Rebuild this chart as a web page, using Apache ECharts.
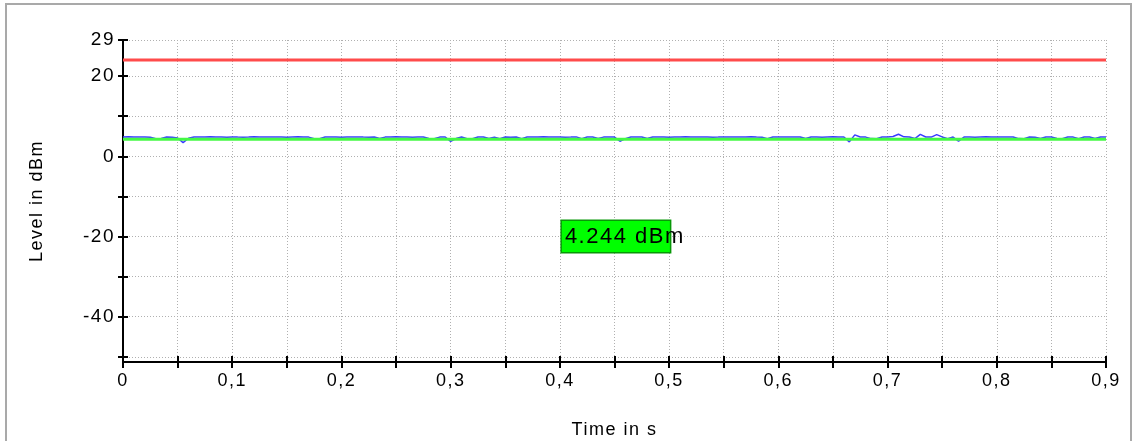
<!DOCTYPE html>
<html>
<head>
<meta charset="utf-8">
<title>Level in dBm</title>
<script src="https://cdn.jsdelivr.net/npm/echarts@6/dist/echarts.min.js"></script>
<style>
  html, body { margin: 0; padding: 0; background: #fff; }
  #chart { width: 1137px; height: 441px; }
</style>
</head>
<body>
<div id="chart"></div>
<script>
// Wide tracking for all chart text (the instrument font is spaced out)
(function () {
  const proto = HTMLCanvasElement.prototype;
  const orig = proto.getContext;
  proto.getContext = function (type, attrs) {
    const ctx = orig.call(this, type, attrs);
    if (type === '2d' && ctx && 'letterSpacing' in ctx) ctx.letterSpacing = '1.5px';
    return ctx;
  };
})();

// ---- data ----
const timeStep = 0.005;            // s between trace samples
const traceLevels = [              // measured level, dBm
  4.82, 4.85, 4.78, 4.80, 4.83, 4.76, 4.40, 4.45, 4.81, 4.77,
  4.55, 3.40, 4.50, 4.79, 4.83, 4.80, 4.85, 4.78, 4.82, 4.76,
  4.84, 4.80, 4.77, 4.81, 4.86, 4.79, 4.82, 4.78, 4.80, 4.83,
  4.77, 4.81, 4.85, 4.80, 4.78, 4.38, 4.40, 4.79, 4.82, 4.80,
  4.76, 4.83, 4.79, 4.84, 4.80, 4.77, 4.81, 4.42, 4.78, 4.82,
  4.85, 4.79, 4.81, 4.77, 4.83, 4.80, 4.45, 4.38, 4.78, 4.81,
  3.70, 4.42, 4.80, 4.40, 4.36, 4.79, 4.82, 4.43, 4.78, 4.38,
  4.81, 4.77, 4.83, 4.41, 4.80, 4.82, 4.78, 4.85, 4.81, 4.79,
  4.83, 4.77, 4.80, 4.84, 4.40, 4.79, 4.81, 4.43, 4.78, 4.82,
  4.80, 3.75, 4.41, 4.79, 4.83, 4.80, 4.42, 4.81, 4.78, 4.84,
  4.77, 4.82, 4.79, 4.85, 4.80, 4.78, 4.83, 4.81, 4.77, 4.80,
  4.84, 4.79, 4.82, 4.78, 4.81, 4.85, 4.80, 4.77, 4.40, 4.82,
  4.79, 4.83, 4.80, 4.78, 4.82, 4.43, 4.80, 4.84, 4.77, 4.81,
  4.85, 4.79, 4.80, 3.60, 5.35, 4.82, 4.78, 4.41, 4.39, 4.80,
  4.83, 4.95, 5.50, 4.85, 4.80, 4.42, 5.45, 4.82, 4.78, 5.40,
  4.83, 4.41, 4.80, 3.75, 4.79, 4.82, 4.77, 4.81, 4.85, 4.80,
  4.78, 4.82, 4.79, 4.83, 4.41, 4.39, 4.80, 4.77, 4.43, 4.81,
  4.79, 4.42, 4.40, 4.82, 4.78, 4.38, 4.81, 4.79, 4.42, 4.83,
  4.80
];
const limitLevel = 24;             // dBm, upper limit line
const averageLevel = 4.244;        // dBm, mean level line
const readoutPos = [0.4, -20];     // s, dBm: anchor of the readout box

const timeRange = [0, 0.9];
const levelRange = [-51.3, 29];
const timeTicks = [0, 0.05, 0.1, 0.15, 0.2, 0.25, 0.3, 0.35, 0.4, 0.45, 0.5, 0.55, 0.6, 0.65, 0.7, 0.75, 0.8, 0.85, 0.9];
const timeLabels = [0, 0.1, 0.2, 0.3, 0.4, 0.5, 0.6, 0.7, 0.8, 0.9];
const levelTicks = [-50, -40, -30, -20, -10, 0, 10, 20, 29];
const levelLabels = [-40, -20, 0, 20, 29];

// ---- build ----
const tracePoints = traceLevels.map((v, i) => [+(i * timeStep).toFixed(3), v]);
const FONT = '"Liberation Sans", Arial, Helvetica, sans-serif';
const fmtTime = v => (Math.abs(v) < 1e-9 ? '0' : (+v).toFixed(1).replace('.', ','));

const gridLine = { show: true, lineStyle: { color: '#b0b0b0', width: 1, type: [1, 2] } };

const chart = echarts.init(document.getElementById('chart'), null, { renderer: 'canvas' });
chart.setOption({
  animation: false,
  backgroundColor: '#ffffff',
  textStyle: { fontFamily: FONT, color: '#000' },
  graphic: [{
    type: 'rect', z: -10, silent: true,
    shape: { x: 6, y: 4, width: 1125, height: 470 },
    style: { fill: null, stroke: '#a9a9a9', lineWidth: 2 }
  }],
  grid: { left: 123, right: 31, top: 40, bottom: 79, containLabel: false, outerBoundsMode: 'none' },
  xAxis: [{
    type: 'value', min: timeRange[0], max: timeRange[1],
    name: 'Time in s', nameLocation: 'middle', nameGap: 58,
    nameTextStyle: { fontSize: 18, fontFamily: FONT, color: '#000' },
    axisLine: { show: true, onZero: false, lineStyle: { color: '#000', width: 2 } },
    axisTick: { show: true, length: 6, customValues: timeTicks, lineStyle: { color: '#000', width: 2 } },
    axisLabel: { customValues: timeLabels, formatter: fmtTime, margin: 9, fontSize: 18, fontFamily: FONT, color: '#000' },
    splitLine: gridLine
  }, {
    type: 'value', min: timeRange[0], max: timeRange[1], position: 'bottom',
    axisLine: { show: false, onZero: false },
    axisTick: { show: true, inside: true, length: 6, customValues: timeTicks, lineStyle: { color: '#000', width: 2 } },
    axisLabel: { show: false },
    splitLine: { show: false }
  }],
  yAxis: [{
    type: 'value', min: levelRange[0], max: levelRange[1],
    name: 'Level in dBm', nameLocation: 'middle', nameGap: 76, nameRotate: 90,
    nameTextStyle: { fontSize: 18, fontFamily: FONT, color: '#000' },
    axisLine: { show: true, onZero: false, lineStyle: { color: '#000', width: 2 } },
    axisTick: { show: true, length: 5, customValues: levelTicks, lineStyle: { color: '#000', width: 2 } },
    axisLabel: { customValues: levelLabels, margin: 8, fontSize: 19, fontFamily: FONT, color: '#000' },
    splitLine: gridLine
  }, {
    type: 'value', min: levelRange[0], max: levelRange[1], position: 'left',
    axisLine: { show: false, onZero: false },
    axisTick: { show: true, inside: true, length: 5, customValues: levelTicks, lineStyle: { color: '#000', width: 2 } },
    axisLabel: { show: false },
    splitLine: { show: false }
  }],
  series: [{
    name: 'Trace', type: 'line', data: tracePoints,
    showSymbol: false, symbol: 'none', z: 2,
    lineStyle: { color: '#3b3bff', width: 1.5 }
  }, {
    name: 'Average', type: 'line', data: [[timeRange[0], averageLevel], [timeRange[1], averageLevel]],
    showSymbol: false, symbol: 'none', z: 3,
    lineStyle: { color: '#44f844', width: 3 }
  }, {
    name: 'Limit', type: 'line', data: [[timeRange[0], limitLevel], [timeRange[1], limitLevel]],
    showSymbol: false, symbol: 'none', z: 3,
    lineStyle: { color: '#ff4b4b', width: 3 }
  }, {
    name: 'Readout', type: 'scatter', data: [readoutPos], symbolSize: 0, silent: true, z: 5,
    itemStyle: { color: '#00ff00', opacity: 1 },
    label: {
      show: true, position: 'right', distance: 2,
      formatter: () => averageLevel.toFixed(3) + ' dBm',
      fontSize: 22, fontFamily: FONT, color: '#000', opacity: 1,
      width: 105, height: 23, lineHeight: 23, overflow: 'none', align: 'left',
      padding: [5, 0, 3, 3],
      backgroundColor: '#00ff00', borderColor: '#089808', borderWidth: 1.5
    }
  }]
});
</script>
</body>
</html>
